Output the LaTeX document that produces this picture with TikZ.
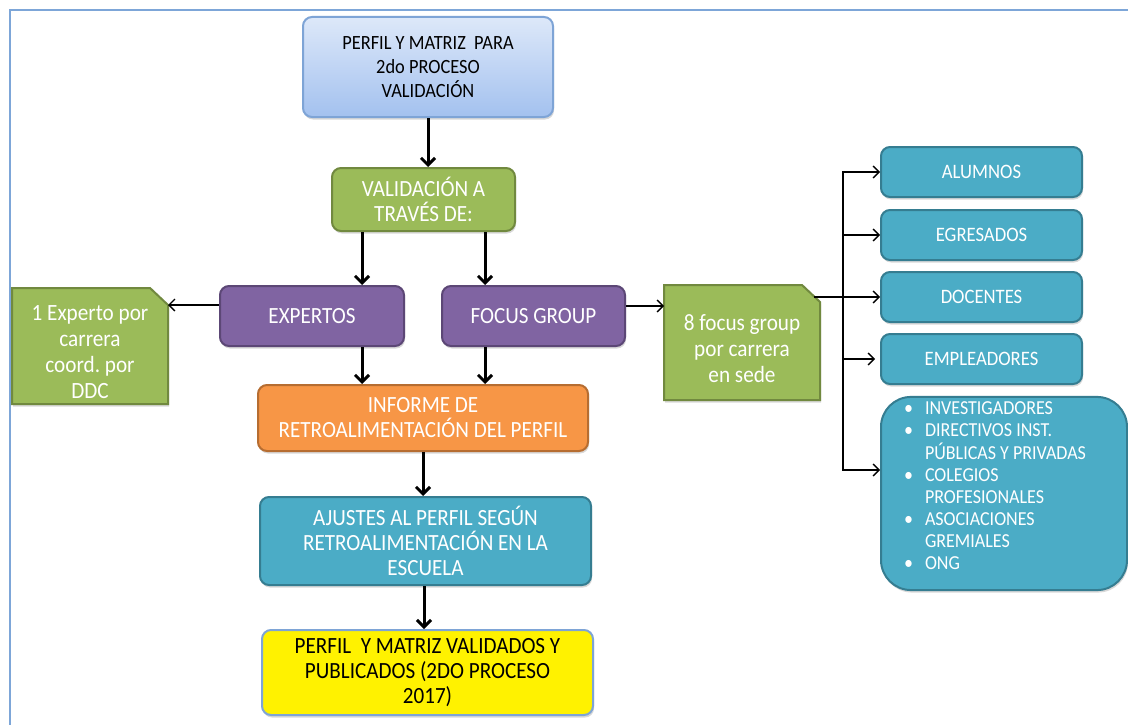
\documentclass[tikz,border=0pt]{standalone}
\usepackage{fontspec}
\setmainfont[FakeStretch=0.91]{Carlito}
\frenchspacing
\usetikzlibrary{arrows.meta,shadows,backgrounds}
\definecolor{frameblue}{HTML}{7DA6D8}
\definecolor{gfill}{HTML}{9BBB59}
\definecolor{gline}{HTML}{71893F}
\definecolor{pfill}{HTML}{8064A2}
\definecolor{pline}{HTML}{5C4776}
\definecolor{ofill}{HTML}{F79646}
\definecolor{oline}{HTML}{B66D31}
\definecolor{tfill}{HTML}{4BACC6}
\definecolor{tline}{HTML}{357D91}
\definecolor{topline}{HTML}{7EA4D6}
\definecolor{toptop}{HTML}{DDE8F9}
\definecolor{topbot}{HTML}{A3C1EF}
\begin{document}
\begin{tikzpicture}[x=1pt,y=-1pt,
  shad/.style={drop shadow={shadow xshift=1pt,shadow yshift=-2.5pt,opacity=0.3}},
  boxbase/.style={rounded corners=9pt,line width=2pt,align=center,inner sep=2pt,
    font=\fontsize{23.2}{25}\selectfont,text=white,shad},
  greenbox/.style={boxbase,fill=gfill,draw=gline},
  purplebox/.style={boxbase,fill=pfill,draw=pline},
  orangebox/.style={boxbase,fill=ofill,draw=oline},
  tealbox/.style={boxbase,fill=tfill,draw=tline},
  smallteal/.style={tealbox,minimum width=201pt,minimum height=50pt,
    font=\fontsize{20.5}{22}\selectfont},
  snipshape/.style={fill=gfill,draw=gline,line width=2pt,line join=miter,shad},
  sniptext/.style={align=center,text=white,font=\fontsize{23.3}{26}\selectfont},
  bigarrow/.style={line width=3pt,-{Straight Barb[length=7pt,width=14pt]}},
  thinarrow/.style={line width=1.3pt,-{Straight Barb[length=6pt,width=12pt]}}
]
\useasboundingbox (0,0) rectangle (1128,725);
\fill[white] (0,0) rectangle (1128,725);
\draw[frameblue,line width=1.5pt] (10,725) -- (10,10) -- (1128,10);

% main column
\node[boxbase,top color=toptop,bottom color=topbot,draw=topline,text=black,
  minimum width=250pt,minimum height=100pt,font=\fontsize{20.2}{24}\selectfont]
  (top) at (428,67) {PERFIL Y MATRIZ\ \ PARA\\2do PROCESO\\VALIDACIÓN};
\node[greenbox,minimum width=183pt,minimum height=63pt] (val) at (423.5,199.5)
  {VALIDACIÓN A\\TRAVÉS DE:};
\node[purplebox,minimum width=184pt,minimum height=60pt] (ex) at (312,316) {EXPERTOS};
\node[purplebox,minimum width=183pt,minimum height=60pt] (fg) at (533.5,316) {FOCUS GROUP};
\node[orangebox,minimum width=330pt,minimum height=66pt] (inf) at (423,418)
  {INFORME DE\\RETROALIMENTACIÓN DEL PERFIL};
\node[tealbox,minimum width=331pt,minimum height=88pt] (aj) at (425.5,541)
  {AJUSTES\ AL PERFIL SEGÚN\\RETROALIMENTACIÓN EN\ LA\\ESCUELA};
\node[boxbase,fill=yellow,draw=topline,text=black,minimum width=331pt,minimum height=85pt]
  (fin) at (427.5,672.5) {PERFIL\ \ Y MATRIZ VALIDADOS Y\\PUBLICADOS (2DO PROCESO\\2017)};

% snipped green notes
\filldraw[snipshape] (12,404) -- (12,288) -- (150,288) -- (168,305) -- (168,404) -- cycle;
\node[sniptext] (ls) at (90,352) {1 Experto por\\carrera\\coord. por\\DDC};
\coordinate (lsE) at (168,305);
\filldraw[snipshape] (664,400) -- (664,285) -- (802,285) -- (820,302) -- (820,400) -- cycle;
\node[sniptext] (rs) at (742,349) {8 focus group\\por carrera\\en sede};
\coordinate (rsW) at (664,306);
\coordinate (rsE) at (814,297);
\coordinate (hub) at (843,297);

% right column
\node[smallteal] (al) at (981.5,172) {ALUMNOS};
\node[smallteal] (eg) at (981.5,235) {EGRESADOS};
\node[smallteal] (do) at (981.5,297) {DOCENTES};
\node[smallteal] (em) at (981.5,359) {EMPLEADORES};
\node[tealbox,rounded corners=30pt,minimum width=246pt,minimum height=193pt,
  font=\fontsize{19.8}{22}\selectfont]
  (big) at (1004,493.5)
  {\hspace*{-18pt}\begin{tabular}{@{}l@{}l@{}}
   \makebox[21pt][l]{•}&INVESTIGADORES\\
   \makebox[21pt][l]{•}&DIRECTIVOS INST.\\
   &PÚBLICAS Y PRIVADAS\\
   \makebox[21pt][l]{•}&COLEGIOS\\
   &PROFESIONALES\\
   \makebox[21pt][l]{•}&ASOCIACIONES\\
   &GREMIALES\\
   \makebox[21pt][l]{•}&ONG\\[12pt]
   \end{tabular}};

% thick arrows
\draw[bigarrow] (top.south) -- (top.south |- val.north);
\draw[bigarrow] ([xshift=-61.5pt]val.south) -- ([xshift=-61.5pt]val.south |- ex.north);
\draw[bigarrow] ([xshift=61.5pt]val.south) -- ([xshift=61.5pt]val.south |- fg.north);
\draw[bigarrow] ([xshift=50pt]ex.south) -- ([xshift=50pt]ex.south |- inf.north);
\draw[bigarrow] ([xshift=-48.5pt]fg.south) -- ([xshift=-48.5pt]fg.south |- inf.north);
\draw[bigarrow] (inf.south) -- (inf.south |- aj.north);
\draw[bigarrow] ([xshift=-1.5pt]aj.south) -- ([xshift=-1.5pt]aj.south |- fin.north);

% thin arrows
\draw[thinarrow] (ex.west |- lsE) -- (lsE);
\draw[thinarrow] (fg.east |- rsW) -- (rsW);
\draw[line width=1.3pt] (rsE) -- (hub);
\draw[thinarrow] (hub) |- (al.west);
\draw[thinarrow] (hub) |- (eg.west);
\draw[thinarrow] (hub) |- (do.west);
\draw[thinarrow] (hub) |- ([xshift=-5pt]em.west);
\draw[thinarrow] (hub) |- ([yshift=23.5pt]big.west);
\end{tikzpicture}
\end{document}
